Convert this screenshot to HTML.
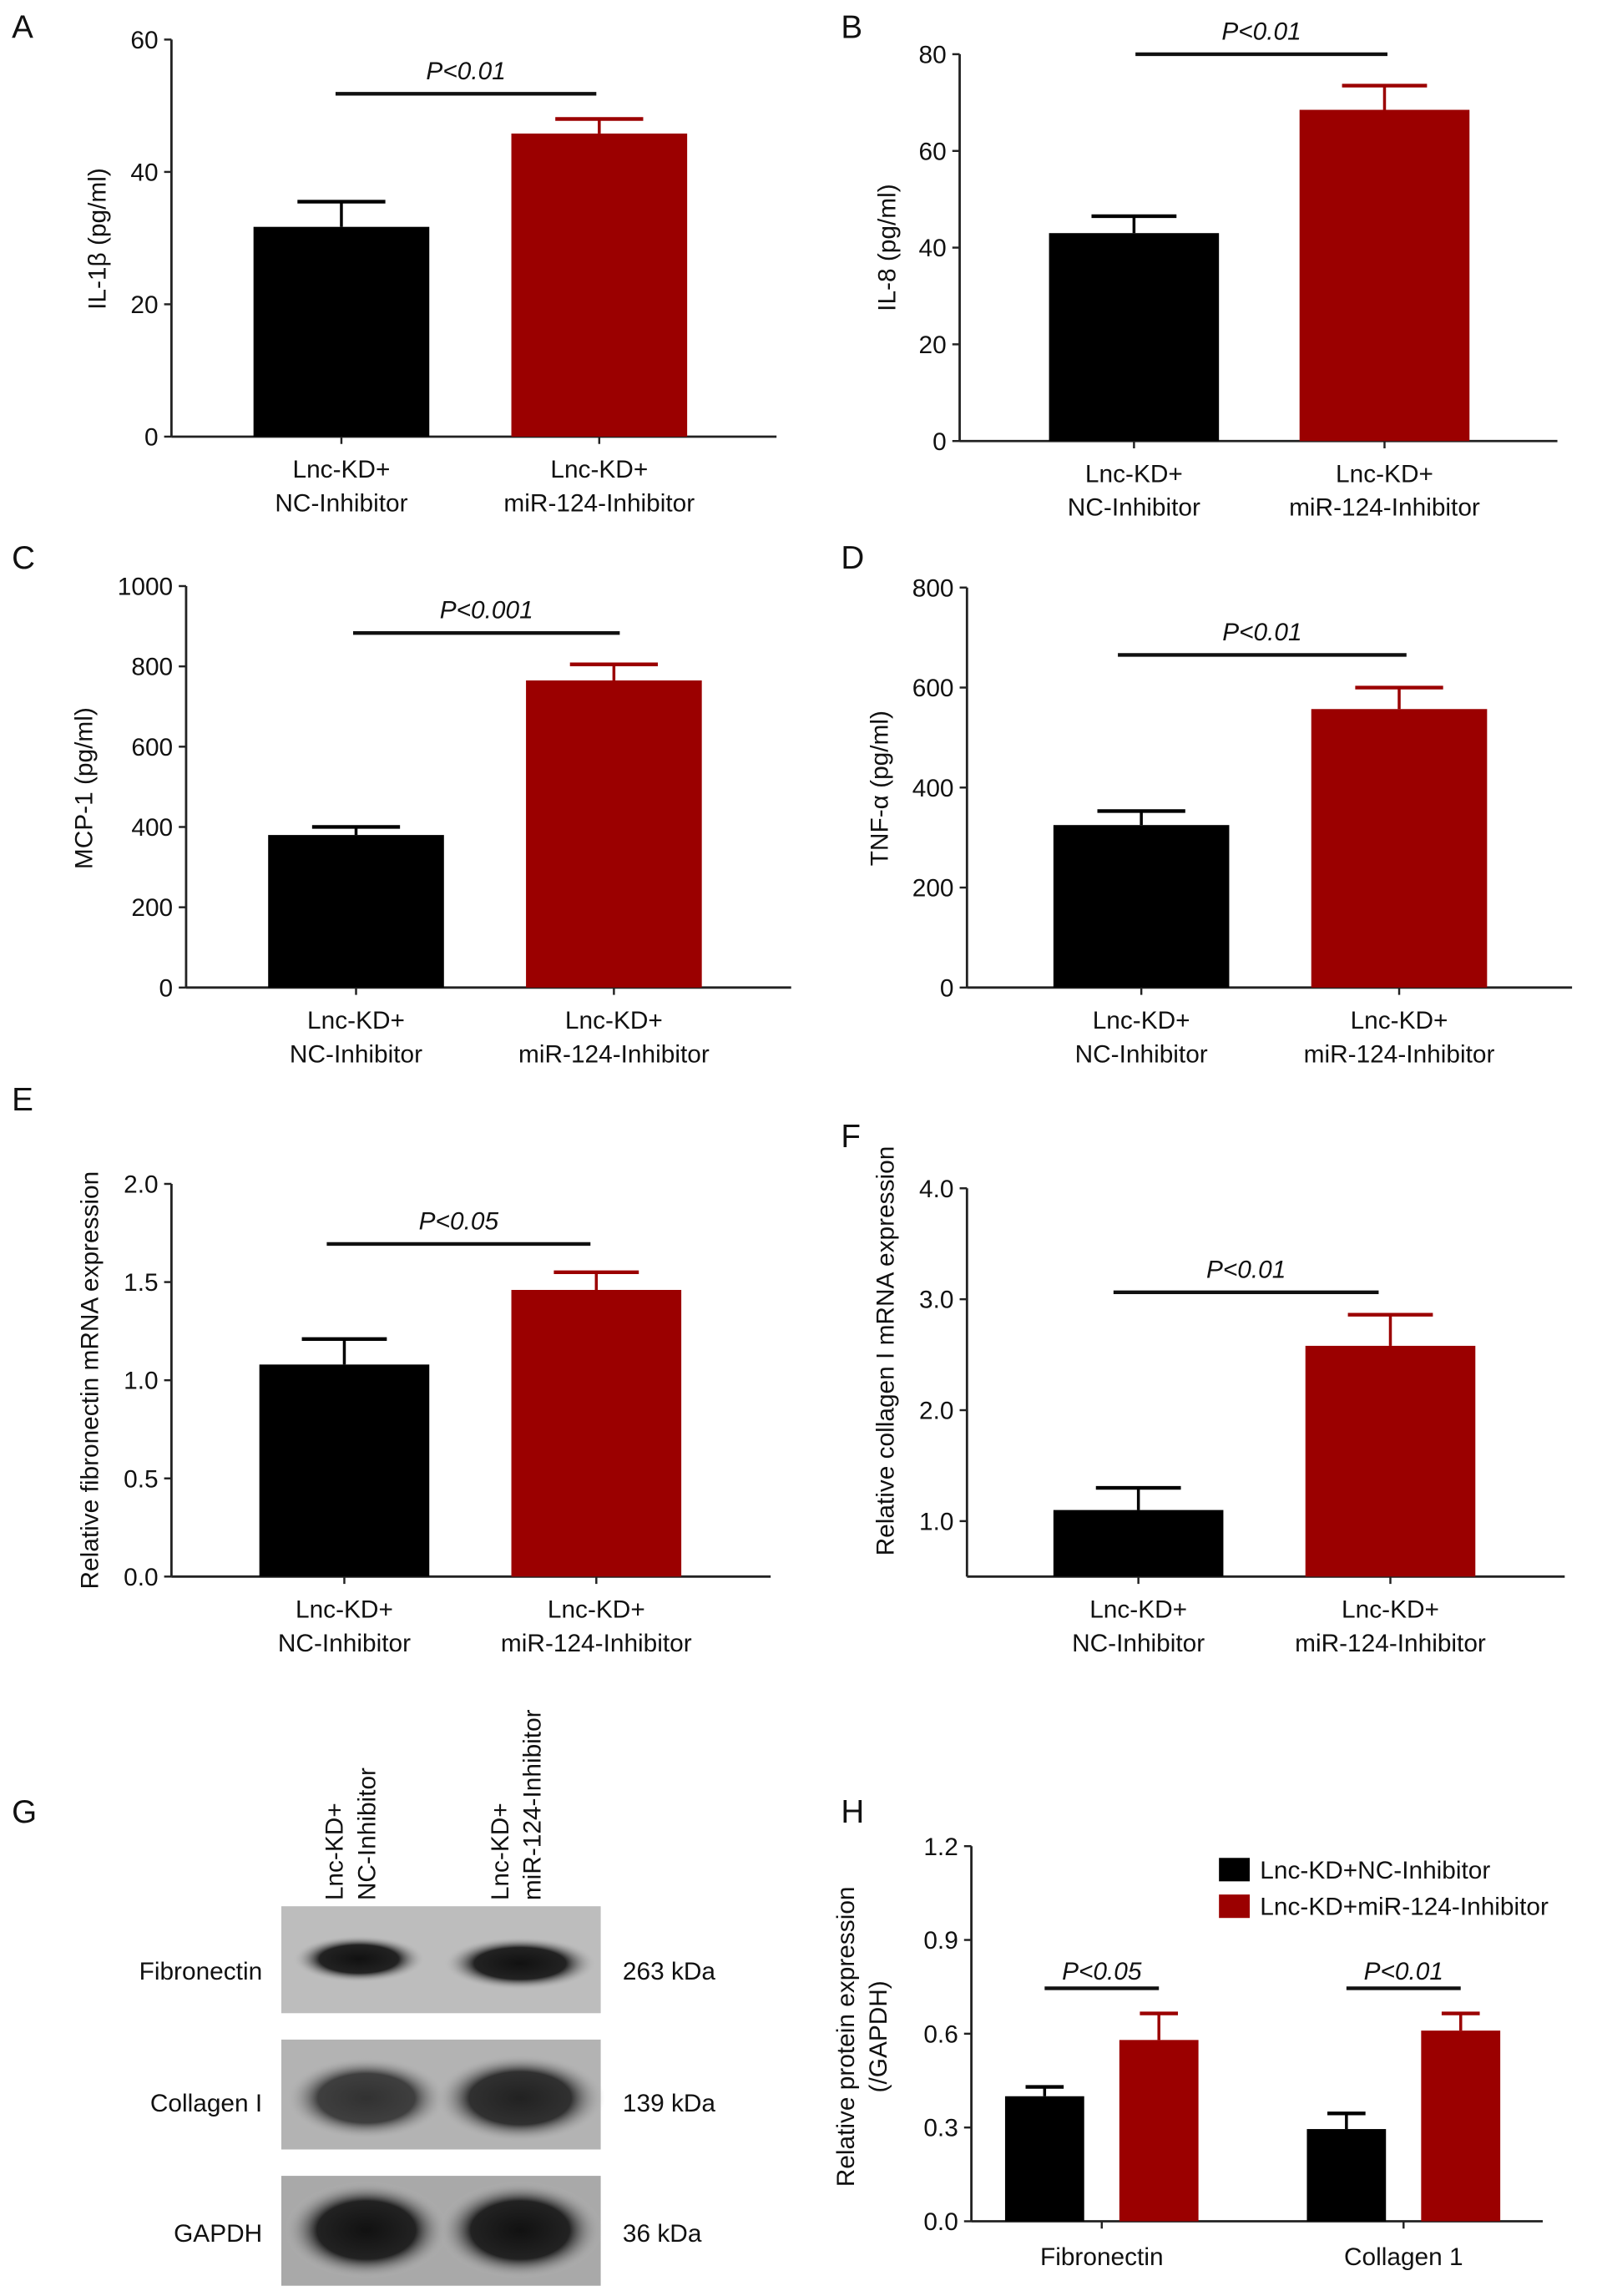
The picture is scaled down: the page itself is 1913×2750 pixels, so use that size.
<!DOCTYPE html>
<html><head><meta charset="utf-8"><style>
html,body{margin:0;padding:0;background:#fff}
svg{display:block}
text{font-family:"Liberation Sans",Arial,sans-serif;fill:#111}
</style></head><body>
<svg id="fig" width="1913" height="2750" viewBox="0 0 1090 1567" xmlns="http://www.w3.org/2000/svg">
<defs>
<radialGradient id="band" cx="50%" cy="50%" r="50%"><stop offset="0" stop-color="#111"/><stop offset="0.6" stop-color="#222"/><stop offset="1" stop-color="#bbb" stop-opacity="0"/></radialGradient>
</defs>
<g id="letters" font-size="22">
<text x="8" y="26">A</text>
<text x="574" y="26">B</text>
<text x="8" y="388">C</text>
<text x="574" y="388">D</text>
<text x="8" y="758">E</text>
<text x="574" y="783">F</text>
<text x="8" y="1244">G</text>
<text x="574" y="1244">H</text>
</g>
<g id="blot">
<rect x="192" y="1301" width="218" height="73" fill="#bdbdbd"/>
<rect x="192" y="1392" width="218" height="75" fill="#b3b3b3"/>
<rect x="192" y="1485" width="218" height="75" fill="#a9a9a9"/>
<ellipse cx="245" cy="1337" rx="45" ry="16" fill="url(#band)"/>
<ellipse cx="355" cy="1340" rx="52" ry="18" fill="url(#band)"/>
<ellipse cx="250" cy="1432" rx="55" ry="28" fill="url(#band)" opacity="0.8"/>
<ellipse cx="355" cy="1432" rx="58" ry="30" fill="url(#band)" opacity="0.9"/>
<ellipse cx="250" cy="1522" rx="56" ry="33" fill="url(#band)"/>
<ellipse cx="355" cy="1522" rx="56" ry="33" fill="url(#band)"/>
<g font-size="17" text-anchor="end">
<text x="179" y="1351">Fibronectin</text>
<text x="179" y="1441">Collagen I</text>
<text x="179" y="1530">GAPDH</text>
</g>
<g font-size="17">
<text x="425" y="1351">263 kDa</text>
<text x="425" y="1441">139 kDa</text>
<text x="425" y="1530">36 kDa</text>
</g>
<g font-size="17">
<text transform="translate(234,1297) rotate(-90)">Lnc-KD+</text>
<text transform="translate(256,1297) rotate(-90)">NC-Inhibitor</text>
<text transform="translate(347,1297) rotate(-90)">Lnc-KD+</text>
<text transform="translate(369,1297) rotate(-90)">miR-124-Inhibitor</text>
</g>
</g>
</svg>
<script>
// Panel data
const catsTwo = [["Lnc-KD+","NC-Inhibitor"],["Lnc-KD+","miR-124-Inhibitor"]];
const valsA = [31.7, 45.8]; const errsA = [35.5, 48]; const ticksA = [0,20,40,60];
const valsB = [43, 68.5]; const errsB = [46.5, 73.5]; const ticksB = [0,20,40,60,80];
const valsC = [380, 765]; const errsC = [400, 805]; const ticksC = [0,200,400,600,800,1000];
const valsD = [325, 557]; const errsD = [353, 600]; const ticksD = [0,200,400,600,800];
const valsE = [1.08, 1.46]; const errsE = [1.21, 1.55]; const ticksE = ["0.0","0.5","1.0","1.5","2.0"];
const valsF = [1.1, 2.58]; const errsF = [1.3, 2.86]; const ticksF = ["1.0","2.0","3.0","4.0"];
const catsH = ["Fibronectin","Collagen 1"];
const valsHBlack = [0.40, 0.295]; const errsHBlack = [0.43, 0.345];
const valsHRed = [0.58, 0.61]; const errsHRed = [0.665, 0.665];
const ticksH = ["0.0","0.3","0.6","0.9","1.2"];
const pTexts = ["P<0.01","P<0.01","P<0.001","P<0.01","P<0.05","P<0.01","P<0.05","P<0.01"];

const NS="http://www.w3.org/2000/svg";
const svg=document.getElementById('fig');
function mk(tag,attrs,parent,txt){const e=document.createElementNS(NS,tag);for(const k in attrs)e.setAttribute(k,attrs[k]);if(txt!==undefined)e.textContent=txt;(parent||svg).appendChild(e);return e;}
const COLORS=["#000","#9b0000"];

function panel(o){
  const g=mk('g',{});
  
  
  const y=v=>o.y0-(v-o.dmin)/(o.dmax-o.dmin)*(o.y0-o.y1);
  // axes
  const ya=mk('line',{x1:o.ax,y1:y(o.dmax),x2:o.ax,y2:o.y0,stroke:'#222','stroke-width':1.6},g);
  
  const xa=mk('line',{x1:o.ax,y1:o.y0,x2:o.axEnd,y2:o.y0,stroke:'#222','stroke-width':1.6},g);
  
  o.ticks.forEach(t=>{const v=parseFloat(t);const yy=y(v);
    mk('line',{x1:o.ax-5,y1:yy,x2:o.ax,y2:yy,stroke:'#222','stroke-width':1.4},g);
    const tl=mk('text',{x:o.ax-9,y:yy+6,'font-size':17,'text-anchor':'end'},g,String(t));
    });
  const yl=mk('text',{transform:`translate(${o.ylx},${o.yly}) rotate(-90)`,'font-size':17,'text-anchor':'middle'},g,o.ylabel);
  
  o.vals.forEach((v,i)=>{
    const x=o.barX[i];const c=COLORS[i];
    const cx=x+o.bw/2;
    mk('line',{x1:cx,y1:y(o.errs[i]),x2:cx,y2:y(v),stroke:c,'stroke-width':2},g);
    mk('line',{x1:cx-o.bw/4,y1:y(o.errs[i]),x2:cx+o.bw/4,y2:y(o.errs[i]),stroke:c,'stroke-width':2.5},g);
    const b=mk('rect',{x:x,y:y(v),width:o.bw,height:o.y0-y(v),fill:c},g);
    
    
    mk('line',{x1:cx,y1:o.y0,x2:cx,y2:o.y0+5,stroke:'#222','stroke-width':1.4},g);
    catsTwo[i].forEach((s,j)=>{const t=mk('text',{x:cx,y:o.y0+28+j*23,'font-size':17,'text-anchor':'middle'},g,s);
      });
  });
  const sl=mk('line',{x1:o.sig[0],y1:o.sig[2],x2:o.sig[1],y2:o.sig[2],stroke:'#111','stroke-width':2.5},g);
  
  const st=mk('text',{x:(o.sig[0]+o.sig[1])/2,y:o.sig[2]-10,'font-size':17,'font-style':'italic','text-anchor':'middle'},g,o.p);
  
}
panel({name:'panel-a-il1b',ax:117,axEnd:530,y0:298,y1:27,dmin:0,dmax:60,ticks:ticksA,vals:valsA,errs:errsA,barX:[173,349],bw:120,sig:[229,407,64],p:pTexts[0],ylabel:'IL-1β (pg/ml)',ylx:72,yly:163});
panel({name:'panel-b-il8',ax:655,axEnd:1063,y0:301,y1:37,dmin:0,dmax:80,ticks:ticksB,vals:valsB,errs:errsB,barX:[716,887],bw:116,sig:[775,947,37],p:pTexts[1],ylabel:'IL-8 (pg/ml)',ylx:611,yly:169});
panel({name:'panel-c-mcp1',ax:127,axEnd:540,y0:674,y1:400,dmin:0,dmax:1000,ticks:ticksC,vals:valsC,errs:errsC,barX:[183,359],bw:120,sig:[241,423,432],p:pTexts[2],ylabel:'MCP-1 (pg/ml)',ylx:63,yly:538});
panel({name:'panel-d-tnfa',ax:660,axEnd:1073,y0:674,y1:401,dmin:0,dmax:800,ticks:ticksD,vals:valsD,errs:errsD,barX:[719,895],bw:120,sig:[763,960,447],p:pTexts[3],ylabel:'TNF-α (pg/ml)',ylx:606,yly:538});
panel({name:'panel-e-fibronectin-mrna',ax:117,axEnd:526,y0:1076,y1:808,dmin:0,dmax:2,ticks:ticksE,vals:valsE,errs:errsE,barX:[177,349],bw:116,sig:[223,403,849],p:pTexts[4],ylabel:'Relative fibronectin mRNA expression',ylx:67,yly:942});
panel({name:'panel-f-collagen-mrna',ax:660,axEnd:1068,y0:1076,y1:811,dmin:0.5,dmax:4,ticks:ticksF,vals:valsF,errs:errsF,barX:[719,891],bw:116,sig:[760,941,882],p:pTexts[5],ylabel:'Relative collagen I mRNA expression',ylx:610,yly:922});

// Panel H grouped
(function(){
  const g=mk('g',{});
  
  
  const ax=663,y0=1516,y1=1260,dmax=1.2;
  const y=v=>y0-v/dmax*(y0-y1);
  mk('line',{x1:ax,y1:y1,x2:ax,y2:y0,stroke:'#222','stroke-width':1.6},g);
  mk('line',{x1:ax,y1:y0,x2:1053,y2:y0,stroke:'#222','stroke-width':1.6},g);
  ticksH.forEach(t=>{const yy=y(parseFloat(t));
    mk('line',{x1:ax-5,y1:yy,x2:ax,y2:yy,stroke:'#222','stroke-width':1.4},g);
    const tl=mk('text',{x:ax-9,y:yy+6,'font-size':17,'text-anchor':'end'},g,t);
    });
  const yl1=mk('text',{transform:'translate(583,1390) rotate(-90)','font-size':17,'text-anchor':'middle'},g,'Relative protein expression');
  
  const yl2=mk('text',{transform:'translate(605,1390) rotate(-90)','font-size':17,'text-anchor':'middle'},g,'(/GAPDH)');
  
  const groupX=[686,892],bw=54,gap=78;
  catsH.forEach((c,i)=>{
    [[valsHBlack,errsHBlack],[valsHRed,errsHRed]].forEach((s,k)=>{
      const x=groupX[i]+k*gap,cx=x+bw/2,col=COLORS[k];
      mk('line',{x1:cx,y1:y(s[1][i]),x2:cx,y2:y(s[0][i]),stroke:col,'stroke-width':2},g);
      mk('line',{x1:cx-13,y1:y(s[1][i]),x2:cx+13,y2:y(s[1][i]),stroke:col,'stroke-width':2.5},g);
      const b=mk('rect',{x:x,y:y(s[0][i]),width:bw,height:y0-y(s[0][i]),fill:col},g);
      
      
    });
    const mid=groupX[i]+(bw+gap)/2;
    mk('line',{x1:mid,y1:y0,x2:mid,y2:y0+5,stroke:'#222','stroke-width':1.4},g);
    const cl=mk('text',{x:mid,y:1546,'font-size':17,'text-anchor':'middle'},g,c);
    
    const sl=mk('line',{x1:mid-39,y1:1357,x2:mid+39,y2:1357,stroke:'#111','stroke-width':2.5},g);
    
    const st=mk('text',{x:mid,y:1351,'font-size':17,'font-style':'italic','text-anchor':'middle'},g,pTexts[6+i]);
    
  });
  const leg=["Lnc-KD+NC-Inhibitor","Lnc-KD+miR-124-Inhibitor"];
  leg.forEach((s,k)=>{
    const sw=mk('rect',{x:832,y:1268+k*25,width:21,height:16,fill:COLORS[k]},g);
    
    const lt=mk('text',{x:860,y:1282+k*25,'font-size':17},g,s);
    
  });
})();
</script>
</body></html>
